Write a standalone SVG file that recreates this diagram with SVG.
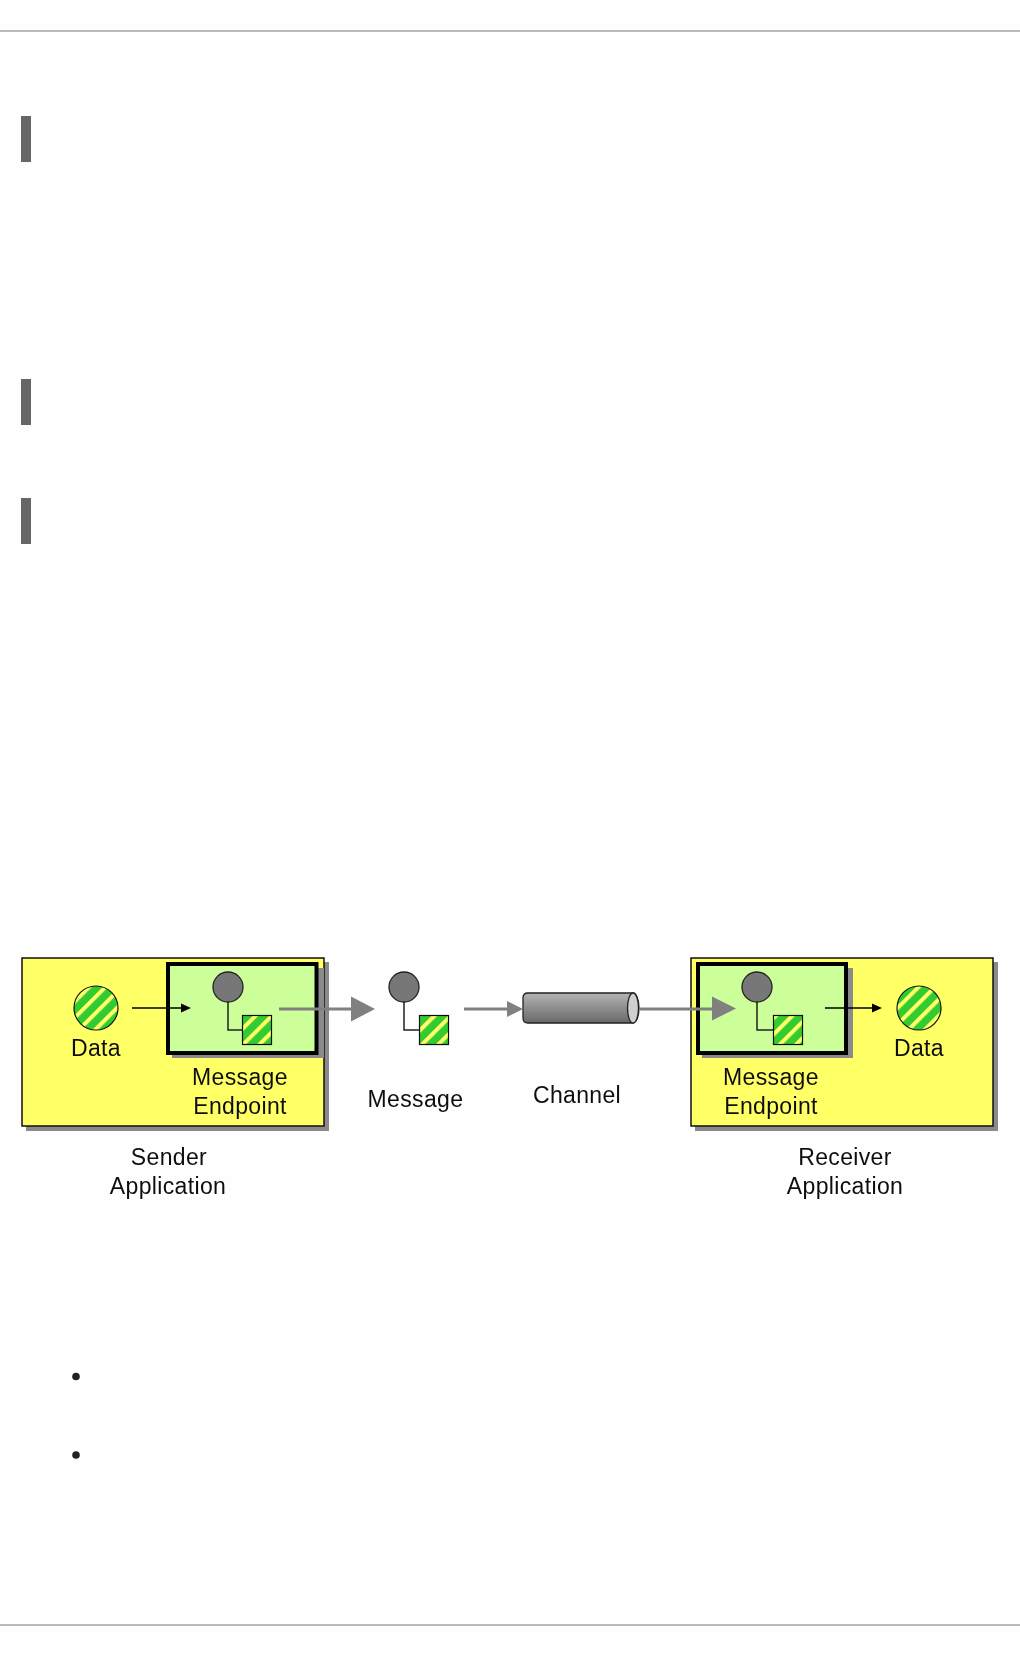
<svg xmlns="http://www.w3.org/2000/svg" width="1020" height="1656" viewBox="0 0 1020 1656">
<style>
.app{fill:#ffff66;stroke:#111;stroke-width:1.5}
.ep{fill:#ccff99;stroke:#000;stroke-width:4}
.sh{fill:#8a8a8a}
.data{fill:url(#st);stroke:#111;stroke-width:1.2}
.head{fill:#777;stroke:#222;stroke-width:1.3}
.lk{fill:none;stroke:#222;stroke-width:1.5}
.blk{fill:none;stroke:#000;stroke-width:1.3}
.gry{fill:none;stroke:#808080;stroke-width:3}
.ga{fill:#808080}
.ka{fill:#000}
text{font-family:"Liberation Sans",Arial,sans-serif;font-size:23px;letter-spacing:.35px;fill:#111;text-anchor:middle}
.bar{fill:#666}
.rule{fill:#bbb}
.dot{fill:#222}
</style>
<defs>
<pattern id="st" width="11.500" height="11.500" patternUnits="userSpaceOnUse" patternTransform="rotate(45)">
<rect width="11.500" height="11.500" fill="#33cc33"/><rect x="0" width="4" height="11.500" fill="#ffff66"/>
</pattern>
<linearGradient id="cy" x1="0" y1="0" x2="0" y2="1"><stop offset="0" stop-color="#b4b4b4"/><stop offset="1" stop-color="#686868"/></linearGradient>
<filter id="soft" x="-2%" y="-2%" width="104%" height="104%"><feGaussianBlur stdDeviation="0.5"/></filter>
</defs>
<rect width="1020" height="1656" fill="#fefefe"/>
<g id="page">
<rect class="rule" x="0" y="30" width="1020" height="2"/>
<rect class="rule" x="0" y="1624" width="1020" height="2"/>
<rect class="bar" x="21" y="116" width="10" height="46"/>
<rect class="bar" x="21" y="379" width="10" height="46"/>
<rect class="bar" x="21" y="498" width="10" height="46"/>
<circle class="dot" cx="76" cy="1376.500" r="3.800"/>
<circle class="dot" cx="76" cy="1455" r="3.800"/>
</g>
<g filter="url(#soft)">
<g id="sender">
<rect class="sh" x="26" y="962" width="303" height="169"/>
<rect class="app" x="22" y="958" width="302" height="168"/>
<rect class="sh" x="172" y="968" width="152" height="90"/>
<rect class="ep" x="168" y="964" width="148.500" height="89"/>
<circle class="data" cx="96" cy="1008" r="22"/>
<text x="96" y="1056">Data</text>
<text x="240" y="1085">Message</text>
<text x="240" y="1114">Endpoint</text>
<path class="lk" d="M228 1002V1030H242"/>
<circle class="head" cx="228" cy="987" r="15"/>
<rect class="data" x="242.500" y="1015.500" width="29" height="29"/>
<text x="169" y="1165">Sender</text>
<text x="168" y="1194">Application</text>
</g>
<g id="message">
<path class="lk" d="M404 1002V1030H419"/>
<circle class="head" cx="404" cy="987" r="15"/>
<rect class="data" x="419.500" y="1015.500" width="29" height="29"/>
<text x="415.500" y="1107">Message</text>
</g>
<g id="receiver">
<rect class="sh" x="695" y="962" width="303" height="169"/>
<rect class="app" x="691" y="958" width="302" height="168"/>
<rect class="sh" x="702" y="968" width="151" height="90"/>
<rect class="ep" x="698" y="964" width="148" height="89"/>
<circle class="data" cx="919" cy="1008" r="22"/>
<text x="919" y="1056">Data</text>
<text x="771" y="1085">Message</text>
<text x="771" y="1114">Endpoint</text>
<path class="lk" d="M757 1002V1030H773"/>
<circle class="head" cx="757" cy="987" r="15"/>
<rect class="data" x="773.500" y="1015.500" width="29" height="29"/>
<text x="845" y="1165">Receiver</text>
<text x="845" y="1194">Application</text>
</g>
<g id="channel">
<path d="M528 993H633A6 15 0 0 1 633 1023H528Q523 1023 523 1018V998Q523 993 528 993Z" fill="url(#cy)" stroke="#222" stroke-width="1.300"/>
<ellipse cx="633" cy="1008" rx="5.500" ry="15" fill="#cfcfcf" stroke="#222" stroke-width="1.300"/>
<text x="577" y="1103">Channel</text>
</g>
<g id="connectors">
<path class="blk" d="M132 1008H186"/><path class="ka" d="M181 1003.500L191 1008L181 1012.500Z"/>
<path class="gry" d="M279 1009H354"/><path class="ga" d="M351 996.500L375 1009L351 1021.500Z"/>
<path class="gry" d="M464 1009H510"/><path class="ga" d="M507 1001L523 1009L507 1017Z"/>
<path class="gry" d="M640 1009H715"/><path class="ga" d="M712 996.500L736 1008.500L712 1020.500Z"/>
<path class="blk" d="M825 1008H877"/><path class="ka" d="M872 1003.500L882 1008L872 1012.500Z"/>
</g>
</g>
</svg>
